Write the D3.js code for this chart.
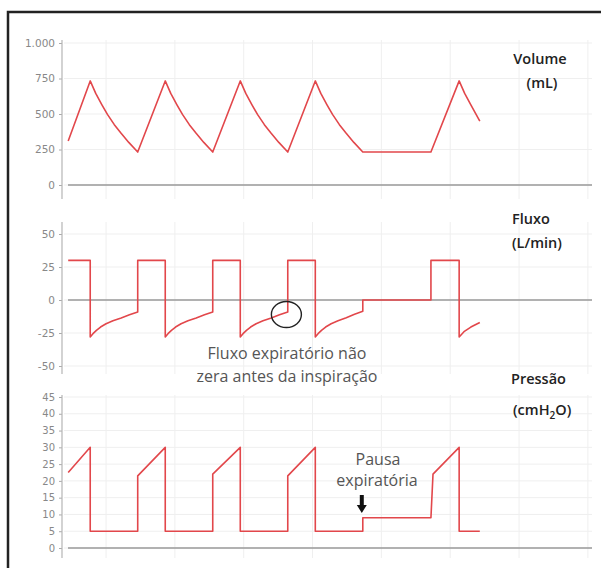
<!DOCTYPE html>
<html>
<head>
<meta charset="utf-8">
<script src="https://cdn.jsdelivr.net/npm/d3@7"></script>
<style>
  html, body { margin: 0; padding: 0; background: #fff; }
  svg { display: block; }
</style>
</head>
<body>
<svg id="chart" width="601" height="568"></svg>
<script>
// Curvas do ventilador: volume, fluxo e pressão ao longo do tempo (s)

// tempos das linhas verticais da grade
const gridTimes = [1, 2, 3, 4, 5, 6, 7, 8];

// Volume (mL)
const volumeTicks = [0, 250, 500, 750, 1000];
const volume = [
  [0.45, 310], [0.77, 733],
  [0.85, 645], [0.94, 565], [1.02, 497], [1.12, 425], [1.21, 370], [1.33, 300], [1.46, 232],
  [1.86, 733],
  [1.94, 645], [2.03, 565], [2.11, 497], [2.21, 425], [2.30, 370], [2.42, 300], [2.55, 232],
  [2.95, 733],
  [3.03, 645], [3.12, 565], [3.20, 497], [3.30, 425], [3.39, 370], [3.51, 300], [3.64, 232],
  [4.04, 733],
  [4.12, 645], [4.21, 565], [4.29, 497], [4.39, 425], [4.48, 370], [4.60, 300], [4.73, 232],
  [5.72, 232], [6.13, 733], [6.21, 645], [6.30, 565], [6.43, 450]
];

// Fluxo (L/min)
const flowTicks = [-50, -25, 0, 25, 50];
const flow = [
  [0.45, 30], [0.77, 30], [0.77, -28],
  [0.81, -25.5], [0.86, -23], [0.92, -20.5], [1.00, -18], [1.10, -15.8], [1.22, -13.6], [1.34, -11.2], [1.46, -9],
  [1.46, 30], [1.86, 30], [1.86, -28],
  [1.90, -25.5], [1.95, -23], [2.01, -20.5], [2.09, -18], [2.19, -15.8], [2.31, -13.6], [2.43, -11.2], [2.55, -9],
  [2.55, 30], [2.95, 30], [2.95, -28],
  [2.99, -25.5], [3.04, -23], [3.10, -20.5], [3.18, -18], [3.28, -15.8], [3.40, -13.6], [3.52, -11.2], [3.64, -9],
  [3.64, 30], [4.04, 30], [4.04, -28],
  [4.08, -25.5], [4.13, -23], [4.19, -20.5], [4.27, -18], [4.37, -15.8], [4.49, -13.4], [4.61, -10.8], [4.73, -8.5],
  [4.73, 0], [5.72, 0], [5.72, 30], [6.13, 30], [6.13, -28],
  [6.20, -24], [6.30, -20.5], [6.43, -17]
];

// Pressão (cmH2O)
const pressureTicks = [0, 5, 10, 15, 20, 25, 30, 35, 40, 45];
const pressure = [
  [0.45, 22.5], [0.77, 30], [0.77, 5], [1.46, 5],
  [1.46, 21.5], [1.86, 30], [1.86, 5], [2.55, 5],
  [2.55, 22], [2.95, 30], [2.95, 5], [3.64, 5],
  [3.64, 21.5], [4.04, 30], [4.04, 5], [4.73, 5],
  [4.73, 9], [5.72, 9], [5.75, 22], [6.13, 30], [6.13, 5], [6.43, 5]
];

const svg = d3.select('#chart');
const RED = '#e2474b';
const ptBR = d3.formatLocale({ decimal: ',', thousands: '.', grouping: [3], currency: ['R$', ''] });

const x = d3.scaleLinear().domain([0.36, 8.06]).range([62, 592]);

// moldura
svg.append('path')
  .attr('d', 'M8,600 L8,12 L610,12')
  .attr('fill', 'none').attr('stroke', '#222').attr('stroke-width', 2.5);

function panel(cfg) {
  const y = d3.scaleLinear().domain(cfg.domain).range(cfg.range);
  const g = svg.append('g');

  // grade
  g.append('g').selectAll('line').data(cfg.ticks).join('line')
    .attr('x1', 64).attr('x2', 592)
    .attr('y1', d => y(d)).attr('y2', d => y(d))
    .attr('stroke', '#efefef').attr('stroke-width', 1);
  g.append('g').selectAll('line').data(gridTimes).join('line')
    .attr('x1', d => x(d)).attr('x2', d => x(d))
    .attr('y1', cfg.axisTop).attr('y2', cfg.axisBottom)
    .attr('stroke', '#efefef').attr('stroke-width', 1);

  // eixo y
  const ax = g.append('g').attr('transform', 'translate(62,0)')
    .call(d3.axisLeft(y).tickValues(cfg.ticks).tickSize(3).tickPadding(4).tickFormat(cfg.fmt || (d => d)));
  ax.select('.domain').remove();
  ax.selectAll('.tick line').attr('stroke', '#aaa');
  ax.selectAll('text').attr('fill', '#888')
    .style('font-family', 'DejaVu Sans, sans-serif').style('font-size', cfg.fs + 'px');
  g.append('line')
    .attr('x1', 62).attr('x2', 62).attr('y1', cfg.axisTop).attr('y2', cfg.axisBottom)
    .attr('stroke', '#b5b5b5').attr('stroke-width', 1.2);

  // linha do zero
  g.append('line')
    .attr('x1', 68).attr('x2', 592).attr('y1', y(0)).attr('y2', y(0))
    .attr('stroke', '#9a9a9a').attr('stroke-width', 1.5);

  // curva
  g.append('path').datum(cfg.data)
    .attr('d', d3.line().x(d => x(d[0])).y(d => y(d[1])))
    .attr('fill', 'none').attr('stroke', RED).attr('stroke-width', 1.6)
    .attr('stroke-linejoin', 'round');
  return { g, y };
}

const pV = panel({ data: volume, ticks: volumeTicks, domain: [0, 1000], range: [185, 43],
  axisTop: 40, axisBottom: 199, fs: 10.5, fmt: ptBR.format(',') });
const pF = panel({ data: flow, ticks: flowTicks, domain: [-50, 50], range: [366, 234],
  axisTop: 222, axisBottom: 374, fs: 10.5 });
const pP = panel({ data: pressure, ticks: pressureTicks, domain: [0, 45], range: [548, 397],
  axisTop: 395, axisBottom: 558, fs: 10 });

// rótulos dos painéis
const LBL = { 'font-family': 'Open Sans, sans-serif', 'font-weight': 600, 'font-size': '14.5px', fill: '#222' };
function label(xp, yp, txt, anchor) {
  const t = svg.append('text').attr('x', xp).attr('y', yp).attr('text-anchor', anchor || 'start');
  Object.entries(LBL).forEach(([k, v]) => t.style(k, v));
  t.text(txt);
  return t;
}
label(540, 64, 'Volume', 'middle');
label(542, 88, '(mL)', 'middle');
label(512, 224, 'Fluxo');
label(512, 248, '(L/min)');
label(511, 384, 'Pressão');
const cm = label(513, 415, '(cmH');
cm.append('tspan').attr('dy', 4).style('font-size', '10px').text('2');
cm.append('tspan').attr('dy', -4).text('O)');

// anotações
const ANN = { 'font-family': 'Open Sans, sans-serif', 'font-size': '16px', fill: '#555' };
function ann(xp, yp, txt) {
  const t = svg.append('text').attr('x', xp).attr('y', yp).attr('text-anchor', 'middle');
  Object.entries(ANN).forEach(([k, v]) => t.style(k, v));
  t.text(txt);
}
ann(287, 359, 'Fluxo expiratório não');
ann(287, 382, 'zera antes da inspiração');
ann(378, 465, 'Pausa');
ann(377, 486, 'expiratória');

// círculo no fim do fluxo expiratório
svg.append('ellipse')
  .attr('cx', x(3.62)).attr('cy', pF.y(-11)).attr('rx', 15).attr('ry', 13)
  .attr('fill', 'none').attr('stroke', '#222').attr('stroke-width', 1.4);

// seta da pausa
const ax0 = x(4.73) - 1;
svg.append('path')
  .attr('d', `M${ax0 - 2},495 L${ax0 + 2},495 L${ax0 + 2},505 L${ax0 + 5},505 L${ax0},513 L${ax0 - 5},505 L${ax0 - 2},505 Z`)
  .attr('fill', '#111');
</script>
</body>
</html>
